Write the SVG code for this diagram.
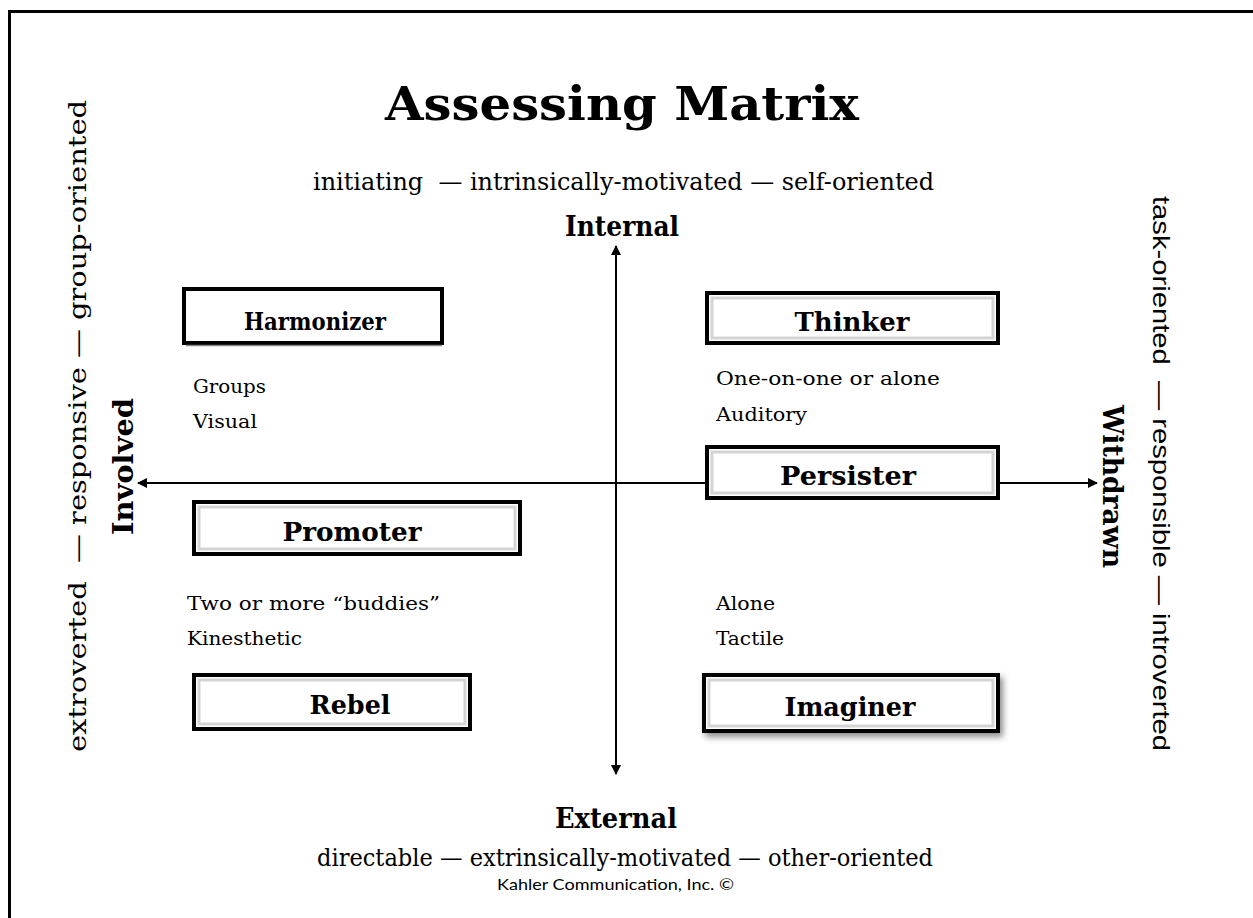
<svg xmlns="http://www.w3.org/2000/svg" width="1253" height="918" viewBox="0 0 1253 918">
<defs>
<style>
.s{font-family:"DejaVu Serif","Liberation Serif",serif;fill:#000}
.b{font-weight:bold}
.a{font-family:"Liberation Sans",Arial,sans-serif;fill:#000}
.c{font-family:Lato,"Open Sans",sans-serif;fill:#000}
.box{fill:#fff;stroke:#000;stroke-width:4}
.inner{fill:none;stroke:#d4d4d4;stroke-width:3}
.ax{stroke:#000;stroke-width:2;fill:none}
</style>
<marker id="ah" viewBox="0 0 10 10" refX="9" refY="5" markerWidth="10" markerHeight="10" markerUnits="userSpaceOnUse" orient="auto">
<path d="M0,0 L10,5 L0,10 z" fill="#000"/>
</marker>
<filter id="sh" x="-10%" y="-30%" width="130%" height="180%">
<feDropShadow dx="3" dy="4" stdDeviation="3" flood-color="#000" flood-opacity="0.45"/>
</filter>
</defs>
<rect width="1253" height="918" fill="#fff"/>
<rect x="9.5" y="11.5" width="1260" height="930" fill="none" stroke="#000" stroke-width="3"/>

<text class="s b" x="622" y="120" font-size="47" text-anchor="middle" textLength="474" lengthAdjust="spacingAndGlyphs">Assessing Matrix</text>
<text class="s" x="313" y="190" font-size="24" textLength="621" lengthAdjust="spacingAndGlyphs" xml:space="preserve">initiating  — intrinsically-motivated — self-oriented</text>
<text class="s b" x="565" y="236" font-size="27" textLength="114" lengthAdjust="spacingAndGlyphs">Internal</text>
<text class="s b" x="555" y="828" font-size="27" textLength="122" lengthAdjust="spacingAndGlyphs">External</text>
<text class="s" x="317" y="866" font-size="24" textLength="616" lengthAdjust="spacingAndGlyphs">directable — extrinsically-motivated — other-oriented</text>
<text class="c" x="497" y="890" font-size="16" textLength="237" lengthAdjust="spacingAndGlyphs">Kahler Communication, Inc. ©</text>

<text class="s" transform="translate(86,752) rotate(-90)" font-size="25" textLength="652" lengthAdjust="spacingAndGlyphs" xml:space="preserve">extroverted  — responsive — group-oriented</text>
<text class="s b" transform="translate(133,535) rotate(-90)" font-size="28" textLength="137" lengthAdjust="spacingAndGlyphs">Involved</text>
<text class="a" transform="translate(1153,196) rotate(90)" font-size="24" textLength="555" lengthAdjust="spacingAndGlyphs" xml:space="preserve">task-oriented  — responsible — introverted</text>
<text class="s b" transform="translate(1103,405) rotate(90)" font-size="28" textLength="163" lengthAdjust="spacingAndGlyphs">Withdrawn</text>

<g id="connectors">
<line class="ax" x1="616" y1="483" x2="616" y2="246" marker-end="url(#ah)"/>
<line class="ax" x1="616" y1="483" x2="616" y2="774" marker-end="url(#ah)"/>
<line class="ax" x1="616" y1="483" x2="138" y2="483" marker-end="url(#ah)"/>
<line class="ax" x1="616" y1="483" x2="1097" y2="483" marker-end="url(#ah)"/>
</g>

<g id="harmonizer">
<rect class="box" x="184" y="289" width="258" height="54"/>
<line x1="186" y1="345.5" x2="442" y2="345.5" stroke="#888" stroke-width="1.5"/>
<text class="s b" x="315" y="330" font-size="25" text-anchor="middle" textLength="142" lengthAdjust="spacingAndGlyphs">Harmonizer</text>
</g>
<g id="thinker">
<rect class="box" x="707" y="293" width="291" height="50"/>
<rect class="inner" x="712" y="298" width="281" height="40"/>
<text class="s b" x="852" y="331" font-size="26" text-anchor="middle" textLength="115" lengthAdjust="spacingAndGlyphs">Thinker</text>
</g>
<g id="persister">
<rect class="box" x="707" y="447" width="291" height="51"/>
<rect class="inner" x="712" y="452" width="281" height="41"/>
<text class="s b" x="848" y="485" font-size="26" text-anchor="middle" textLength="136" lengthAdjust="spacingAndGlyphs">Persister</text>
</g>
<g id="promoter">
<rect class="box" x="194" y="502" width="326" height="52"/>
<rect class="inner" x="199" y="507" width="316" height="42"/>
<text class="s b" x="352" y="541" font-size="26" text-anchor="middle" textLength="139" lengthAdjust="spacingAndGlyphs">Promoter</text>
</g>
<g id="rebel">
<rect class="box" x="194" y="675" width="276" height="54"/>
<rect class="inner" x="199" y="680" width="266" height="44"/>
<text class="s b" x="350" y="714" font-size="26" text-anchor="middle" textLength="81" lengthAdjust="spacingAndGlyphs">Rebel</text>
</g>
<g id="imaginer">
<rect class="box" x="704" y="675" width="294" height="56" filter="url(#sh)"/>
<rect class="inner" x="709" y="680" width="284" height="46"/>
<text class="s b" x="850" y="716" font-size="26" text-anchor="middle" textLength="131" lengthAdjust="spacingAndGlyphs">Imaginer</text>
</g>

<g id="notes">
<text class="s" x="193" y="393" font-size="19" textLength="73" lengthAdjust="spacingAndGlyphs">Groups</text>
<text class="s" x="193" y="428" font-size="19" textLength="64" lengthAdjust="spacingAndGlyphs">Visual</text>
<text class="s" x="716" y="385" font-size="19" textLength="224" lengthAdjust="spacingAndGlyphs">One-on-one or alone</text>
<text class="s" x="716" y="421" font-size="19" textLength="91" lengthAdjust="spacingAndGlyphs">Auditory</text>
<text class="s" x="187" y="610" font-size="19" textLength="253" lengthAdjust="spacingAndGlyphs">Two or more “buddies”</text>
<text class="s" x="187" y="645" font-size="19" textLength="115" lengthAdjust="spacingAndGlyphs">Kinesthetic</text>
<text class="s" x="716" y="610" font-size="19" textLength="59" lengthAdjust="spacingAndGlyphs">Alone</text>
<text class="s" x="716" y="645" font-size="19" textLength="68" lengthAdjust="spacingAndGlyphs">Tactile</text>
</g>
</svg>
